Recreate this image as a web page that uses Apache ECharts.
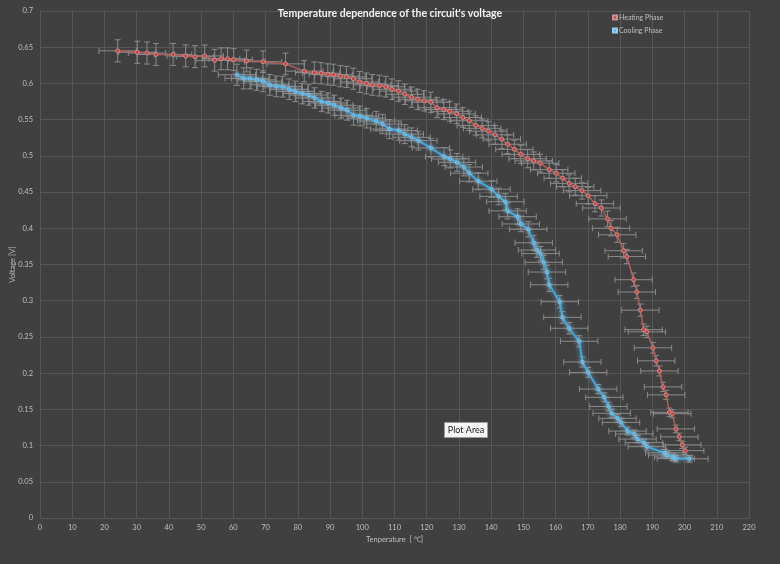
<!DOCTYPE html>
<html>
<head>
<meta charset="utf-8">
<script src="https://cdn.jsdelivr.net/npm/echarts@6/dist/echarts.min.js"></script>
<style>html,body{margin:0;padding:0;background:#404040;}#c{width:780px;height:564px;}</style>
</head>
<body>
<div id="c"></div>
<script>
// ---- data ----
const heatT = [24.1,30.2,33.2,36.0,41.3,45.2,48.1,51.1,54.2,56.2,58.2,60.1,64.1,69.2,76.2,82.0,85.1,87.2,89.3,91.1,93.2,95.1,97.2,99.2,101.3,103.1,105.3,107.3,109.2,111.2,113.2,115.3,117.2,119.2,121.3,123.2,125.3,127.1,129.3,131.2,133.2,135.2,137.2,139.1,141.2,143.3,145.1,147.2,149.2,151.3,153.2,155.2,158.0,160.2,162.2,164.2,166.1,168.2,170.1,172.2,174.2,176.1,177.2,179.1,181.1,182.1,184.2,185.2,186.3,187.3,188.3,190.2,191.2,192.2,193.3,194.3,195.3,196.2,197.3,198.4,199.3,200.2];
const heatV = [0.645,0.643,0.642,0.640,0.640,0.638,0.637,0.638,0.632,0.634,0.634,0.633,0.631,0.630,0.627,0.617,0.615,0.614,0.6125,0.612,0.610,0.609,0.6065,0.602,0.600,0.598,0.597,0.5955,0.592,0.5895,0.585,0.581,0.578,0.576,0.574,0.5665,0.564,0.5615,0.558,0.553,0.5485,0.542,0.538,0.534,0.529,0.523,0.516,0.509,0.502,0.496,0.493,0.490,0.481,0.476,0.469,0.462,0.4575,0.452,0.445,0.434,0.428,0.413,0.400,0.391,0.369,0.361,0.329,0.312,0.287,0.260,0.257,0.235,0.217,0.203,0.181,0.170,0.146,0.144,0.123,0.112,0.101,0.093];
const coolT = [61.1,63.2,65.2,67.2,69.2,71.3,73.3,75.3,77.3,79.2,81.4,83.3,85.2,87.4,89.4,91.3,93.4,95.3,97.3,99.3,101.4,104.3,106.3,108.4,111.3,113.2,115.3,117.4,121.3,125.4,127.3,129.4,131.5,133.2,136.0,140.1,142.3,144.4,145.1,148.2,149.2,151.5,153.2,154.2,155.3,156.3,157.3,158.0,161.3,162.1,164.2,167.3,168.3,170.1,173.2,175.1,176.4,177.4,179.2,180.3,182.3,184.4,185.4,187.4,188.3,193.7,194.6,196.5,197.3,201.5];
const coolV = [0.612,0.607,0.607,0.605,0.603,0.598,0.596,0.5955,0.592,0.589,0.586,0.584,0.580,0.575,0.573,0.570,0.566,0.563,0.556,0.555,0.552,0.548,0.544,0.537,0.535,0.530,0.5256,0.521,0.511,0.499,0.4957,0.491,0.4846,0.476,0.465,0.454,0.444,0.4367,0.424,0.416,0.406,0.3986,0.380,0.370,0.365,0.353,0.3396,0.322,0.2986,0.277,0.262,0.244,0.2155,0.201,0.178,0.1666,0.154,0.1446,0.1376,0.132,0.120,0.116,0.109,0.104,0.0985,0.090,0.087,0.084,0.082,0.0817];
const xTickMin = 0, xTickMax = 220, xTickStep = 10;
const yTickMin = 0, yTickMax = 0.7, yTickStep = 0.05;
const seriesNames = ['Heating Phase', 'Cooling Phase'];
// measurement uncertainty
const tempErr = 5.8;          // ±°C
const voltErrAbs = 0.003;     // ±V
const voltErrRel = 0.019;     // relative

function pts(T, V) { return T.map((t, i) => [t, V[i]]); }
function errPts(T, V) { return T.map((t, i) => [t, V[i], tempErr, voltErrAbs + voltErrRel * V[i]]); }

function renderErr(params, api) {
  const x = api.value(0), y = api.value(1), ex = api.value(2), ey = api.value(3);
  const l = api.coord([x - ex, y]), r = api.coord([x + ex, y]);
  const t = api.coord([x, y + ey]), b = api.coord([x, y - ey]);
  const cap = 3;
  const style = { stroke: '#8a8a8a', lineWidth: 1 };
  return {
    type: 'group',
    children: [
      { type: 'line', shape: { x1: l[0], y1: l[1], x2: r[0], y2: r[1] }, style },
      { type: 'line', shape: { x1: l[0], y1: l[1] - cap, x2: l[0], y2: l[1] + cap }, style },
      { type: 'line', shape: { x1: r[0], y1: r[1] - cap, x2: r[0], y2: r[1] + cap }, style },
      { type: 'line', shape: { x1: t[0], y1: t[1], x2: b[0], y2: b[1] }, style },
      { type: 'line', shape: { x1: t[0] - cap, y1: t[1], x2: t[0] + cap, y2: t[1] }, style },
      { type: 'line', shape: { x1: b[0] - cap, y1: b[1], x2: b[0] + cap, y2: b[1] }, style }
    ]
  };
}

const chart = echarts.init(document.getElementById('c'), null, { renderer: 'canvas' });
const txt = '#bfbfbf';
const gridCol = '#575757';
chart.setOption({
  backgroundColor: '#404040',
  animation: false,
  textStyle: { fontFamily: 'Lato, "Open Sans", sans-serif' },
  title: {
    text: "Temperature dependence of the circuit's voltage",
    left: 'center', top: 3,
    textStyle: { color: '#f2f2f2', fontSize: 10.5, fontWeight: 'bold', fontFamily: 'Lato, sans-serif' }
  },
  legend: {
    orient: 'vertical', left: 607, top: 9, itemGap: 6,
    itemWidth: 4, itemHeight: 4, icon: 'rect',
    textStyle: { color: txt, fontSize: 7, padding: [0, 0, 0, -3] },
    data: seriesNames
  },
  grid: { left: 40, right: 31, top: 11, bottom: 46, containLabel: false, outerBoundsMode: 'none' },
  xAxis: {
    type: 'value', min: xTickMin, max: xTickMax, interval: xTickStep,
    name: 'Tenperature  [ ℃]', nameLocation: 'middle', nameGap: 18, nameMoveOverlap: false,
    nameTextStyle: { color: txt, fontSize: 7.5 },
    axisLine: { lineStyle: { color: gridCol } },
    axisTick: { show: false },
    axisLabel: { color: txt, fontSize: 7.5, margin: 6 },
    splitLine: { lineStyle: { color: gridCol, width: 1 } }
  },
  yAxis: {
    type: 'value', min: yTickMin, max: yTickMax, interval: yTickStep,
    name: 'Voltage [V]', nameLocation: 'middle', nameGap: 23, nameRotate: 90, nameMoveOverlap: false,
    nameTextStyle: { color: txt, fontSize: 7.5 },
    axisLine: { show: true, lineStyle: { color: gridCol } },
    axisTick: { show: false },
    axisLabel: { color: txt, fontSize: 7.5, margin: 7 },
    splitLine: { lineStyle: { color: gridCol, width: 1 } }
  },
  series: [
    {
      type: 'custom', name: 'heatErr', renderItem: renderErr, z: 1,
      encode: { x: 0, y: 1 }, data: errPts(heatT, heatV), silent: true
    },
    {
      type: 'custom', name: 'coolErr', renderItem: renderErr, z: 1,
      encode: { x: 0, y: 1 }, data: errPts(coolT, coolV), silent: true
    },
    {
      name: seriesNames[0], type: 'line', z: 3,
      data: pts(heatT, heatV),
      symbol: 'circle', symbolSize: 4, showAllSymbol: true,
      lineStyle: { color: '#b05e5e', width: 1.5 },
      itemStyle: { color: '#cf3f3a', borderColor: '#c99090', borderWidth: 1 }
    },
    {
      name: seriesNames[1], type: 'line', z: 4,
      data: pts(coolT, coolV),
      symbol: 'rect', symbolSize: 3, showAllSymbol: true,
      lineStyle: { color: '#3fa6dc', width: 2, shadowBlur: 5, shadowColor: 'rgba(110,190,235,0.8)' },
      itemStyle: { color: '#46b0e8', borderColor: '#8fd0f0', borderWidth: 0.5, shadowBlur: 5, shadowColor: 'rgba(200,220,235,0.7)' }
    }
  ],
  graphic: [
    {
      type: 'group', left: 444, top: 422, silent: true, z: 100,
      children: [
        { type: 'rect', z: 100, shape: { x: 0, y: 0, width: 43, height: 15 },
          style: { fill: '#f4f4f4', stroke: '#9a9a9a', lineWidth: 1 } },
        { type: 'text', z: 101, x: 21.5, y: 7.5,
          style: { text: 'Plot Area', fill: '#222', fontSize: 9, align: 'center', verticalAlign: 'middle', fontFamily: 'Lato, sans-serif' } }
      ]
    }
  ]
});
</script>
</body>
</html>
